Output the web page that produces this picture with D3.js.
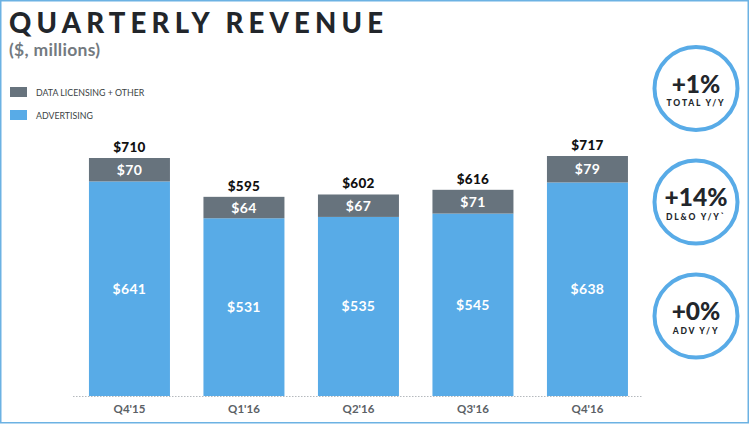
<!DOCTYPE html>
<html><head><meta charset="utf-8">
<script src="https://cdn.jsdelivr.net/npm/d3@7"></script>
<style>
html,body{margin:0;padding:0;background:#fff;}
svg{display:block;font-family:Lato,"Open Sans",sans-serif;}
</style></head>
<body><svg id="c" width="750" height="425"></svg>
<script>
const categories = ["Q4'15","Q1'16","Q2'16","Q3'16","Q4'16"];
const advertising = [641,531,535,545,638];
const dataLicensing = [70,64,67,71,79];
const totals = [710,595,602,616,717];
const badgeValues = ["+1%","+14%","+0%"];
const badgeLabels = ["TOTAL Y/Y","DL&O Y/Y`","ADV Y/Y"];
const legendLabels = ["DATA LICENSING + OTHER","ADVERTISING"];

const BLUE = "#58abe7", GRAY = "#67737d", FRAME = "#6cb2e3";
const svg = d3.select("#c");

// frame
svg.append("rect").attr("x",0.75).attr("y",0.75).attr("width",747.5).attr("height",422)
  .attr("fill","none").attr("stroke",FRAME).attr("stroke-width",1.5);

// title
svg.append("text").attr("x",9).attr("y",33).text("QUARTERLY REVENUE")
  .attr("font-size",27.5).attr("font-weight",900).attr("letter-spacing",5.2).attr("fill","#22262b");
svg.append("text").attr("x",9).attr("y",56).text("($, millions)")
  .attr("font-size",17.5).attr("font-weight",700).attr("letter-spacing",0.3).attr("fill","#737a80");

// legend
const lg = svg.append("g");
[GRAY, BLUE].forEach((c,i)=>{
  lg.append("rect").attr("x",10).attr("y",87+i*23).attr("width",17).attr("height",10).attr("fill",c);
  lg.append("text").attr("x",36).attr("y",95.5+i*23).text(legendLabels[i])
    .attr("font-size",8.8).attr("fill","#3a3f44");
});

// scales
const x = d3.scaleBand().domain(categories).range([54.6,662.3]).paddingInner(0.2926).paddingOuter(0.3);
const y = d3.scaleLinear().domain([0,717]).range([396,156]);

// baseline dotted
svg.append("line").attr("x1",73).attr("x2",642).attr("y1",396.5).attr("y2",396.5)
  .attr("stroke","#b5b9bd").attr("stroke-width",1).attr("stroke-dasharray","1.5,1.5");

const g = svg.append("g");
categories.forEach((c,i)=>{
  const x0 = x(c), w = x.bandwidth();
  const yA = y(advertising[i]);
  const yT = y(advertising[i]+dataLicensing[i]);
  g.append("rect").attr("x",x0).attr("y",yA).attr("width",w).attr("height",y(0)-yA).attr("fill",BLUE);
  g.append("rect").attr("x",x0).attr("y",yT).attr("width",w).attr("height",yA-yT).attr("fill",GRAY);
  g.append("text").attr("x",x0+w/2).attr("y",(yA+y(0))/2+5).attr("text-anchor","middle")
    .text("$"+advertising[i]).attr("fill","#fff").attr("font-size",14).attr("font-weight",700).attr("letter-spacing",0.3);
  g.append("text").attr("x",x0+w/2).attr("y",(yA+yT)/2+5).attr("text-anchor","middle")
    .text("$"+dataLicensing[i]).attr("fill","#fff").attr("font-size",14).attr("font-weight",700).attr("letter-spacing",0.3);
  g.append("text").attr("x",x0+w/2).attr("y",yT-6).attr("text-anchor","middle")
    .text("$"+totals[i]).attr("fill","#111").attr("font-size",13.5).attr("font-weight",900).attr("letter-spacing",0.3);
});

// x axis labels
const ax = svg.append("g").attr("transform","translate(0,396)")
  .call(d3.axisBottom(x).tickSize(0).tickPadding(9));
ax.select(".domain").remove();
ax.selectAll("text").attr("font-size",11.5).attr("fill","#5b6166").attr("font-family","Lato,sans-serif").attr("font-weight",700);

// badges
const cy = [88.5,202,316];
badgeValues.forEach((v,i)=>{
  const bg = svg.append("g").attr("transform",`translate(696,${cy[i]})`);
  bg.append("circle").attr("r",41.5).attr("fill","#fff").attr("stroke",BLUE).attr("stroke-width",4);
  bg.append("text").attr("y",4).attr("text-anchor","middle").text(v)
    .attr("font-size",24.5).attr("font-weight",900).attr("fill","#22262b");
  bg.append("text").attr("y",17.5).attr("text-anchor","middle").text(badgeLabels[i])
    .attr("font-size",8.5).attr("font-weight",900).attr("letter-spacing",1.8).attr("fill","#22262b");
});
</script></body></html>
